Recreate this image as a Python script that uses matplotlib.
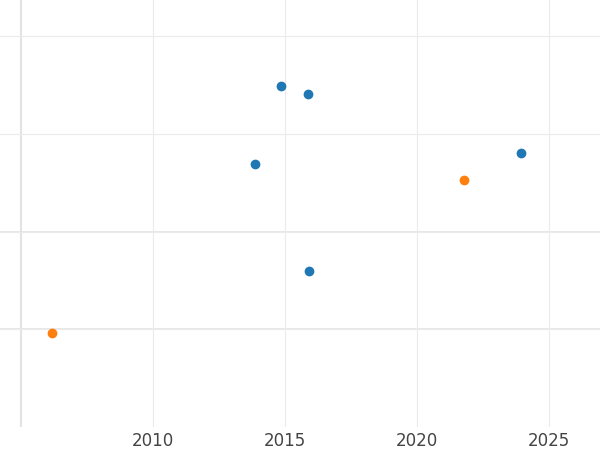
import matplotlib
matplotlib.use("Agg")
import matplotlib.pyplot as plt

blue_x = [2014.85, 2015.87, 2013.86, 2023.94, 2015.91]
blue_y = [3.49, 3.41, 2.69, 2.80, 1.60]
orange_x = [2021.78, 2006.17]
orange_y = [2.53, 0.96]
xticks = [2010, 2015, 2020, 2025]

fig = plt.figure(figsize=(6, 4.5), dpi=100)
ax = fig.add_axes([0, 23/450, 1, 427/450])
ax.set_xlim(2004.2, 2026.93)
ax.set_ylim(0, 4.37)
ax.set_xticks(xticks)
ax.set_yticks([1, 2, 3, 4])
ax.set_yticklabels([])
ax.tick_params(length=0, labelsize=12, colors="#444444")
ax.grid(True, color="#ebebeb", linewidth=0.8)
for y in [1, 2]:
    ax.axhline(y, color="#e3e3e3", linewidth=1.2, zorder=0)
ax.axvline(2005, color="#e3e3e3", linewidth=1.5, zorder=0)
for s in ax.spines.values():
    s.set_visible(False)
ax.scatter(blue_x, blue_y, color="#1f77b4", s=36, zorder=3)
ax.scatter(orange_x, orange_y, color="#ff7f0e", s=36, zorder=3)
fig.savefig("out.png", dpi=100)
